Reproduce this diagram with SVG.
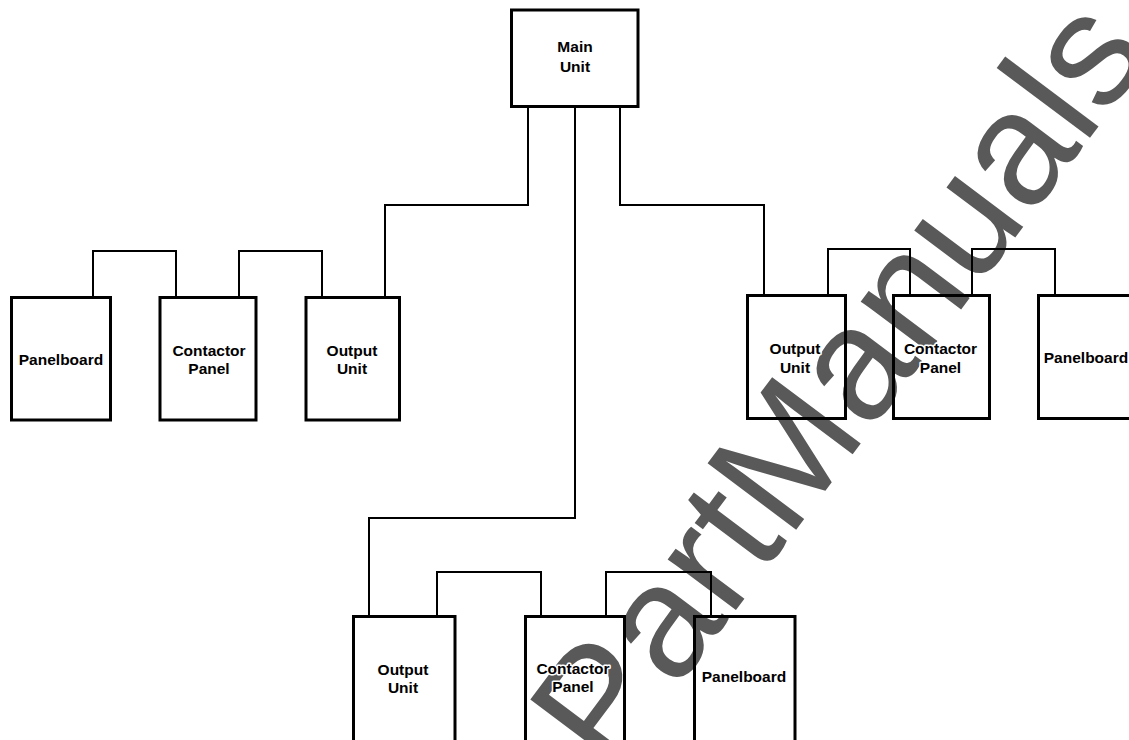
<svg xmlns="http://www.w3.org/2000/svg" width="1129" height="740" viewBox="0 0 1129 740">
  <style>
    .box { fill: none; stroke: #000; stroke-width: 3; }
    .wire { fill: none; stroke: #000; stroke-width: 2; }
    .lbl { font-family: "Liberation Sans", Arial, sans-serif; font-weight: bold; font-size: 15.5px; fill: #000; text-anchor: middle; paint-order: stroke; stroke: #fff; stroke-width: 3; stroke-linejoin: round; }
    .wm { font-family: "Liberation Sans", Arial, sans-serif; font-size: 161px; fill: #595959; }
  </style>
  <rect width="1129" height="740" fill="#fff"/>
  <text class="wm" x="611" y="776.5" transform="rotate(-53.13 611 776.5)">PartManuals</text>

  <g id="connectors">
    <path class="wire" d="M528,106 V205 H385 V297"/>
    <path class="wire" d="M93,297 V251 H176 V297"/>
    <path class="wire" d="M239,297 V251 H322 V297"/>
    <path class="wire" d="M620,106 V205 H764 V295"/>
    <path class="wire" d="M828,295 V249 H910 V295"/>
    <path class="wire" d="M972,295 V249 H1055 V295"/>
    <path class="wire" d="M575,106 V518 H369 V617"/>
    <path class="wire" d="M437,617 V572 H541 V617"/>
    <path class="wire" d="M606,617 V572 H711 V617"/>
  </g>

  <g id="main-unit">
    <rect class="box" x="511.5" y="10" width="126.5" height="96.5"/>
    <text class="lbl" x="575" y="52">Main</text>
    <text class="lbl" x="575" y="72">Unit</text>
  </g>

  <g id="left-panelboard">
    <rect class="box" x="11.5" y="297.5" width="99" height="122.5"/>
    <text class="lbl" x="61" y="365">Panelboard</text>
  </g>
  <g id="left-contactor-panel">
    <rect class="box" x="160" y="297.5" width="96" height="122.5"/>
    <text class="lbl" x="209" y="356">Contactor</text>
    <text class="lbl" x="209" y="374">Panel</text>
  </g>
  <g id="left-output-unit">
    <rect class="box" x="306" y="297.5" width="93.5" height="122.5"/>
    <text class="lbl" x="352" y="356">Output</text>
    <text class="lbl" x="352" y="374">Unit</text>
  </g>

  <g id="right-output-unit">
    <rect class="box" x="747.5" y="295.5" width="98" height="123"/>
    <text class="lbl" x="795" y="354">Output</text>
    <text class="lbl" x="795" y="373">Unit</text>
  </g>
  <g id="right-contactor-panel">
    <rect class="box" x="893.5" y="295.5" width="96" height="123"/>
    <text class="lbl" x="940.5" y="354">Contactor</text>
    <text class="lbl" x="940.5" y="373">Panel</text>
  </g>
  <g id="right-panelboard">
    <rect class="box" x="1038.5" y="295.5" width="97" height="123"/>
    <text class="lbl" x="1086" y="363">Panelboard</text>
  </g>

  <g id="bottom-output-unit">
    <rect class="box" x="353.5" y="616.5" width="101.5" height="130"/>
    <text class="lbl" x="403" y="675">Output</text>
    <text class="lbl" x="403" y="693">Unit</text>
  </g>
  <g id="bottom-contactor-panel">
    <rect class="box" x="525.5" y="616.5" width="99" height="130"/>
    <text class="lbl" x="573" y="674">Contactor</text>
    <text class="lbl" x="573" y="692">Panel</text>
  </g>
  <g id="bottom-panelboard">
    <rect class="box" x="694.5" y="616.5" width="100.5" height="130"/>
    <text class="lbl" x="744" y="682">Panelboard</text>
  </g>
</svg>
